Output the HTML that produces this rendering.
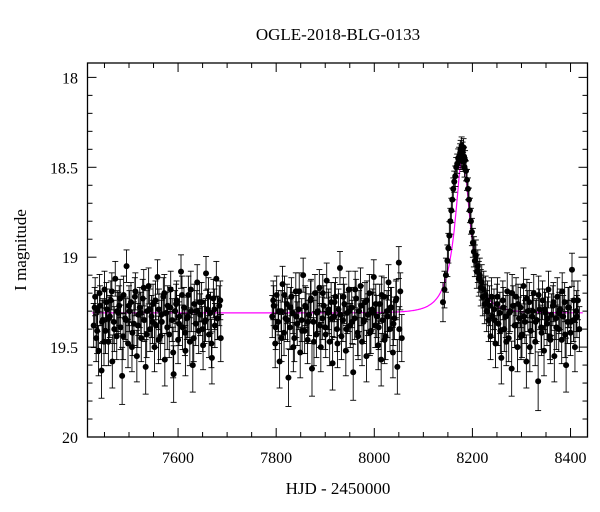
<!DOCTYPE html>
<html><head><meta charset="utf-8"><style>
body{margin:0;background:#fff;}
svg{display:block;font-family:"Liberation Serif",serif;}
</style></head><body>
<svg id="chart" width="600" height="512" viewBox="0 0 600 512">
<text x="338" y="40" font-size="17" text-anchor="middle">OGLE-2018-BLG-0133</text>
<text x="338" y="494" font-size="17" text-anchor="middle">HJD - 2450000</text>
<text transform="translate(26,250) rotate(-90)" font-size="17" text-anchor="middle">I magnitude</text>
<g id="ticks"></g>
<g id="model"></g>
<g id="pts"></g>
<rect x="87.5" y="63" width="500" height="374" fill="none" stroke="#000" stroke-width="1.3"/>
</svg>
<script>
const xTicks=[7600,7800,8000,8200,8400];
const yTicks=[18,18.5,19,19.5,20];
const modelParams=[8180,0.29,38,19.31,0.5]; // t0,u0,tE,baseline,fs
const times1=[7428,7431,7433,7436,7438,7441,7444,7447,7450,7452,7455,7458,7461,7463,7466,7469,7472,7475,7478,7480,7483,7486,7489,7492,7495,7498,7501,7504,7507,7510,7513,7516,7519,7522,7525,7528,7531,7534,7537,7540,7543,7546,7549,7552,7555,7558,7561,7564,7567,7570,7573,7576,7579,7582,7585,7588,7591,7594,7597,7600,7603,7606,7609,7612,7615,7618,7621,7624,7627,7630,7633,7636,7639,7642,7645,7648,7651,7654,7657,7660,7663,7666,7669,7672,7675,7678,7681,7684,7687];
const mags1=[19.38,19.22,19.45,19.30,19.52,19.27,19.63,19.35,19.18,19.41,19.29,19.47,19.33,19.24,19.58,19.36,19.12,19.44,19.31,19.27,19.39,19.66,19.21,19.34,19.05,19.48,19.30,19.25,19.42,19.37,19.19,19.55,19.32,19.28,19.45,19.23,19.35,19.61,19.30,19.16,19.40,19.33,19.26,19.50,19.38,19.11,19.29,19.44,19.36,19.22,19.57,19.31,19.27,19.43,19.18,19.35,19.65,19.30,19.24,19.46,19.33,19.08,19.39,19.28,19.52,19.34,19.21,19.47,19.30,19.60,19.26,19.37,19.14,19.41,19.32,19.25,19.49,19.36,19.09,19.29,19.43,19.31,19.56,19.23,19.38,19.12,19.34,19.27,19.45];
const times1b=[7430,7435,7440,7445,7449,7454,7459,7465,7470,7476,7482,7488,7494,7500,7506,7512,7518,7524,7530,7536,7542,7548,7554,7560,7566,7572,7578,7584,7590,7596,7602,7608,7614,7620,7626,7632,7638,7644,7650,7656,7662,7668,7674,7680,7686];
const mags1b=[19.28,19.41,19.20,19.36,19.47,19.25,19.34,19.19,19.40,19.30,19.23,19.44,19.35,19.27,19.50,19.22,19.38,19.31,19.17,19.43,19.29,19.36,19.24,19.46,19.32,19.20,19.39,19.28,19.53,19.26,19.37,19.21,19.42,19.33,19.18,19.45,19.30,19.25,19.40,19.35,19.22,19.48,19.29,19.34,19.24];
const times2=[7792,7795,7798,7801,7804,7807,7810,7813,7816,7819,7822,7825,7828,7831,7834,7837,7840,7843,7846,7849,7852,7855,7858,7861,7864,7867,7870,7873,7876,7879,7882,7885,7888,7891,7894,7897,7900,7903,7906,7909,7912,7915,7918,7921,7924,7927,7930,7933,7936,7939,7942,7945,7948,7951,7954,7957,7960,7963,7966,7969,7972,7975,7978,7981,7984,7987,7990,7993,7996,7999,8002,8005,8008,8011,8014,8017,8020,8023,8026,8029,8032,8035,8038,8041,8044,8047,8050,8053,8056];
const mags2=[19.33,19.27,19.48,19.21,19.36,19.58,19.30,19.15,19.42,19.34,19.26,19.67,19.39,19.22,19.31,19.45,19.19,19.37,19.29,19.53,19.35,19.10,19.41,19.28,19.46,19.32,19.24,19.62,19.36,19.20,19.43,19.30,19.17,19.50,19.34,19.27,19.39,19.13,19.31,19.47,19.25,19.59,19.33,19.22,19.40,19.29,19.06,19.44,19.35,19.26,19.52,19.31,19.18,19.38,19.28,19.64,19.34,19.23,19.42,19.30,19.16,19.47,19.36,19.25,19.55,19.32,19.20,19.41,19.29,19.11,19.38,19.33,19.49,19.26,19.57,19.35,19.22,19.44,19.30,19.14,19.40,19.28,19.53,19.34,19.24,19.61,19.03,19.19,19.45];
const times2b=[7794,7799,7805,7811,7817,7823,7829,7835,7841,7847,7853,7859,7865,7871,7877,7883,7889,7895,7901,7907,7913,7919,7925,7931,7937,7943,7949,7955,7961,7967,7973,7979,7985,7991,7997,8003,8009,8015,8021,8027,8033,8039,8045,8051];
const mags2b=[19.24,19.39,19.30,19.45,19.21,19.35,19.28,19.50,19.33,19.19,19.41,19.27,19.36,19.23,19.47,19.31,19.38,19.20,19.43,19.29,19.34,19.25,19.48,19.32,19.22,19.40,19.30,19.36,19.18,19.44,19.27,19.35,19.24,19.42,19.31,19.26,19.39,19.21,19.46,19.33,19.28,19.37,19.23,19.40];
const times3=[8140,8143,8146,8149,8151,8153,8155,8157,8159,8161,8163,8165,8167,8169,8171,8173,8175,8176,8177,8178,8179,8180,8181,8182,8183,8184,8185,8187,8189,8191,8193,8195,8197,8199,8201,8203,8205,8207,8209,8211,8213,8215,8217,8219,8221,8223,8225,8227,8229,8231,8233,8235,8237,8239,8241,8244,8247,8250,8253,8256,8259,8262,8265,8268,8271,8274,8277,8280,8283,8286,8289,8292,8295,8298,8301,8304,8307,8310,8313,8316,8319,8322,8325,8328,8331,8334,8337,8340,8343,8346,8349,8352,8355,8358,8361,8364,8367,8370,8373,8376,8379,8382,8385,8388,8391,8394,8397,8400,8403,8406,8409,8412,8415,8418];
const mags3=[19.25,19.18,19.10,19.02,18.95,18.88,18.80,18.74,18.68,18.62,18.58,18.55,18.50,18.48,18.45,18.44,18.42,18.40,18.46,18.38,18.43,18.41,18.47,18.39,18.44,18.50,18.46,18.52,18.57,18.62,18.68,18.74,18.80,18.86,18.92,18.97,19.02,18.99,19.08,19.05,19.12,19.10,19.17,19.14,19.22,19.18,19.26,19.21,19.30,19.24,19.35,19.27,19.44,19.22,19.33,19.29,19.48,19.26,19.37,19.31,19.56,19.24,19.40,19.33,19.19,19.45,19.30,19.62,19.27,19.38,19.22,19.50,19.34,19.28,19.43,19.16,19.36,19.58,19.30,19.25,19.41,19.33,19.20,19.47,19.35,19.69,19.29,19.39,19.24,19.52,19.31,19.37,19.18,19.44,19.32,19.27,19.55,19.34,19.22,19.40,19.29,19.46,19.33,19.25,19.60,19.36,19.28,19.42,19.07,19.35,19.50,19.30,19.24,19.40];
const times3b=[8245,8251,8257,8263,8269,8275,8281,8287,8293,8299,8305,8311,8317,8323,8329,8335,8341,8347,8353,8359,8365,8371,8377,8383,8389,8395,8401,8407,8413];
const mags3b=[19.35,19.22,19.41,19.28,19.47,19.31,19.20,19.38,19.26,19.44,19.33,19.23,19.50,19.30,19.36,19.21,19.42,19.29,19.34,19.46,19.25,19.39,19.31,19.19,19.43,19.28,19.36,19.24,19.33];
const NS='http://www.w3.org/2000/svg';
const X0=7415.4,X1=8434.6,PX0=87.5,PX1=587.5;
const Y0=17.92,Y1=20.0,PY0=63,PY1=437;
function xs(t){return PX0+(t-X0)/(X1-X0)*(PX1-PX0);}
function ys(m){return PY0+(m-Y0)/(Y1-Y0)*(PY1-PY0);}
function mk(tag,attrs,parent){const e=document.createElementNS(NS,tag);for(const k in attrs)e.setAttribute(k,attrs[k]);parent.appendChild(e);return e;}
const tg=document.getElementById('ticks');
function line(x1,y1,x2,y2,p,w){return mk('line',{x1:x1,y1:y1,x2:x2,y2:y2,stroke:'#000','stroke-width':w||1},p);}
for(let t=7450;t<=8400;t+=50){
  const x=xs(t);const maj=xTicks.includes(t);const L=maj?9:5;
  line(x,PY1,x,PY1-L,tg);line(x,PY0,x,PY0+L,tg);
}
xTicks.forEach(t=>{const e=mk('text',{x:xs(t),y:463,'font-size':16,'text-anchor':'middle'},tg);e.textContent=t;

});
for(let k=0;k<=20;k++){
  const m=18+k*0.1;const y=ys(m);const maj=k%5===0;const L=maj?9:5;
  line(PX0,y,PX0+L,y,tg);line(PX1,y,PX1-L,y,tg);
}
yTicks.forEach(m=>{const e=mk('text',{x:78,y:ys(m)+6,'font-size':16,'text-anchor':'end'},tg);e.textContent=String(m);

});
const [t0,u0,tE,base,fs]=modelParams;
let d='';
for(let t=7425;t<=8425;t+=1){const u=Math.sqrt(u0*u0+((t-t0)/tE)**2);const A=(u*u+2)/(u*Math.sqrt(u*u+4));const m=base-2.5*Math.log10(fs*A+1-fs);d+=(d?'L':'M')+xs(t).toFixed(1)+','+ys(m).toFixed(1);}
const mp=mk('path',{d:d,fill:'none',stroke:'#ff00ff','stroke-width':1.2},document.getElementById('model'));


const pg=document.getElementById('pts');
[[times1,mags1],[times1b,mags1b],[times2,mags2],[times2b,mags2b],[times3,mags3],[times3b,mags3b]].forEach(([T,M])=>{
  const n=Math.min(T.length,M.length);
  for(let i=0;i<n;i++){
    const x=xs(T[i]),m=M[i];const err=0.115*Math.pow(10,0.4*(m-19.31));
    const g=mk('g',{},pg);
    
    
    const ya=ys(m-err),yb=ys(m+err);
    line(x,ya,x,yb,g,0.9);line(x-3,ya,x+3,ya,g,0.9);line(x-3,yb,x+3,yb,g,0.9);
    mk('circle',{cx:x,cy:ys(m),r:3,fill:'#000'},g);
  }
});
</script>
</body></html>
